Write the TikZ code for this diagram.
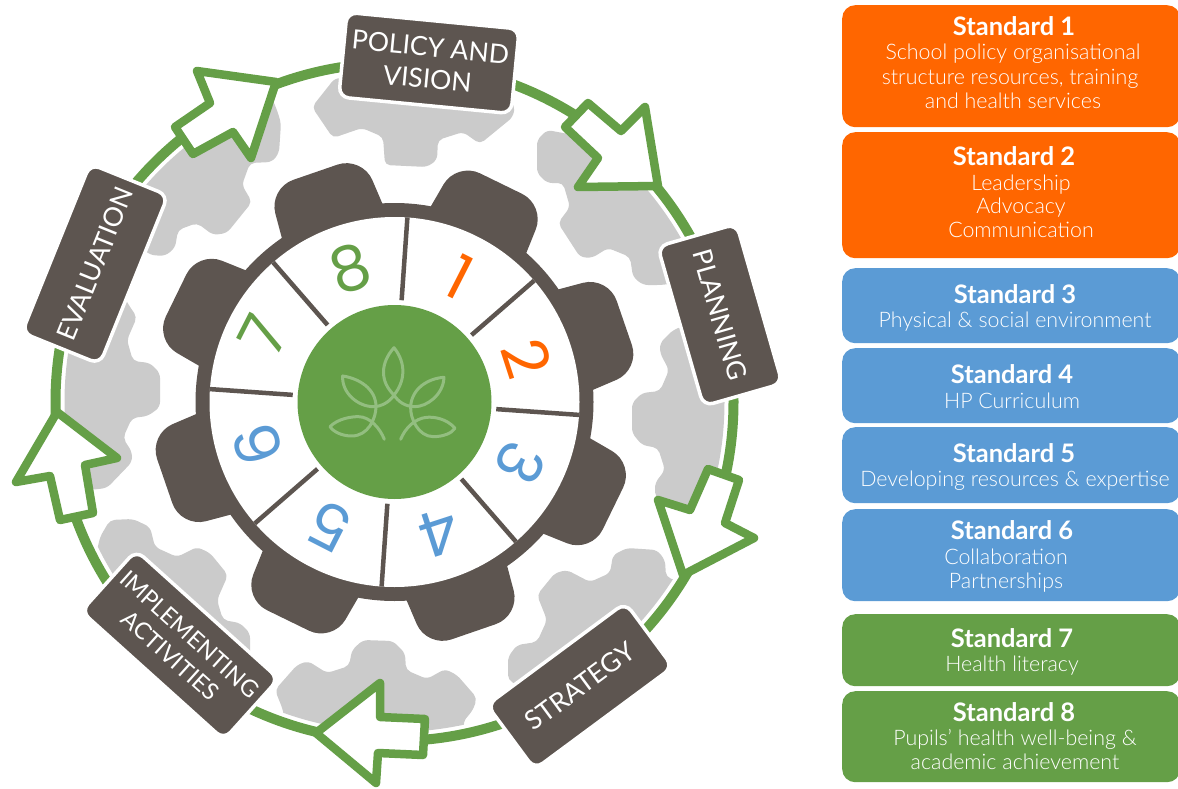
\documentclass[tikz,border=0pt]{standalone}
\usepackage{fontspec}
\setmainfont{Lato}
\newfontfamily\lightfont{Lato Light}
\newfontfamily\digitfont{Poppins}
\usepackage{tikz}
\usetikzlibrary{shapes,arrows,fit,calc,positioning}
\definecolor{gearbrown}{HTML}{5D5550}
\definecolor{ringgreen}{HTML}{659F47}
\definecolor{leafgreen}{HTML}{93BE80}
\definecolor{stdorange}{HTML}{FF6600}
\definecolor{stdblue}{HTML}{5B9BD5}
\definecolor{blobgrey}{HTML}{CBCBCB}

\begin{document}
\begin{tikzpicture}[x=1pt,y=-1pt,
    blob/.style={fill=blobgrey,rounded corners=5pt},
    flow/.style={draw=ringgreen,fill=white,line width=8.5pt,line join=round},
    stage/.style={draw=white,fill=gearbrown,line width=3.5pt,rounded corners=10pt,text=white,align=center,inner sep=0pt,font=\fontsize{26.5}{32}\selectfont},
    digit/.style={font=\digitfont\fontsize{62}{62}\selectfont,inner sep=0pt},
    stdbox/.style={rounded corners=13pt,anchor=north west,minimum width=338pt,inner sep=0pt},
    stdtitle/.style={anchor=base,text=white,inner sep=0pt,font=\fontsize{25.5}{26}\selectfont\bfseries},
    stdline/.style={anchor=base,text=white,inner sep=0pt,font=\lightfont\fontsize{21.4}{22}\selectfont}]
  \useasboundingbox (0,0) rectangle (1178,789);
  \coordinate (c) at (394.5,402);

  % grey gear pieces behind the ring
  \begin{scope}
    \clip (c) circle (330);
    \fill[blob] (335,78) -- (312,107) -- (333,138) -- (362,128) -- (383,137) -- (385,165) -- (427,167) -- (437,160) -- (438,140) -- (463,132) -- (480,144) -- (513,117) -- (515,105) -- (480,85) -- cycle;
    \fill[blob] (547,130) -- (537,140) -- (537,173) -- (547,183) -- (563,183) -- (570,207) -- (558,223) -- (580,257) -- (592,258) -- (608,248) -- (630,257) -- (633,277) -- (643,285) -- (662,285) -- (760,270) -- (680,170) -- (600,140) -- cycle;
    \fill[blob] (673,330) -- (660,343) -- (660,353) -- (669,370) -- (660,391) -- (642,393) -- (632,403) -- (632,433) -- (642,445) -- (658,448) -- (665,470) -- (655,483) -- (655,497) -- (677,507) -- (760,500) -- (760,400) -- (700,320) -- cycle;
    \fill[blob] (508,680) -- (508,657) -- (517,645) -- (537,642) -- (547,620) -- (537,595) -- (555,573) -- (567,570) -- (590,582) -- (610,573) -- (613,555) -- (627,548) -- (657,550) -- (665,560) -- (666,577) -- (675,580) -- (720,600) -- (600,730) -- cycle;
    \fill[blob] (275,690) -- (297,665) -- (308,661) -- (327,673) -- (349,666) -- (352,650) -- (363,640) -- (393,641) -- (405,653) -- (406,670) -- (427,679) -- (445,669) -- (457,675) -- (477,698) -- (473,710) -- (463,722) -- (470,760) -- (290,760) -- (283,710) -- cycle;
    \fill[blob] (95,560) -- (100,537) -- (110,520) -- (133,519) -- (150,527) -- (155,547) -- (177,557) -- (197,547) -- (210,553) -- (228,575) -- (217,600) -- (223,620) -- (240,623) -- (250,633) -- (250,660) -- (180,700) -- cycle;
    \fill[blob] (130,307) -- (137,317) -- (127,340) -- (133,361) -- (150,363) -- (160,373) -- (160,407) -- (148,416) -- (132,418) -- (123,438) -- (132,452) -- (132,462) -- (107,488) -- (90,490) -- (40,450) -- (40,330) -- (120,290) -- cycle;
    \fill[blob] (277,110) -- (281,123) -- (279,153) -- (272,162) -- (250,163) -- (242,185) -- (252,202) -- (227,233) -- (213,235) -- (197,223) -- (178,230) -- (175,248) -- (165,256) -- (150,255) -- (110,220) -- (160,120) -- (260,70) -- cycle;
  \end{scope}

  % outer ring and the arrows on it
  \draw[ringgreen,line width=10pt] (c) circle (339);
  \draw[flow] (276,82) -- (197,71) -- (210,103) -- (175,127) -- (193,154) -- (233,132) -- (251,158) -- cycle;
  \draw[flow] (658,186) -- (645,107) -- (621,131) -- (588,103) -- (565,127) -- (598,158) -- (578,187) -- cycle;
  \draw[flow] (683,575) -- (754,538) -- (725,523) -- (739,480) -- (708,469) -- (690,510) -- (658,500) -- cycle;
  \draw[flow] (316,733) -- (380,683) -- (380,717) -- (425,719) -- (423,755) -- (378,753) -- (376,783) -- cycle;
  \draw[flow] (57,412) -- (16,482) -- (50,476) -- (60,520) -- (93,513) -- (85,465) -- (117,458) -- cycle;

  \node[stage,rotate=-5.5,minimum width=173pt,minimum height=85pt] (policy) at (429,63) {POLICY AND\\VISION};
  \node[stage,rotate=-74,minimum width=166pt,minimum height=82pt] (planning) at (720,315) {PLANNING};
  \node[stage,rotate=36.5,minimum width=172pt,minimum height=80pt] (strategy) at (580,686) {STRATEGY};
  \node[stage,rotate=-42,minimum width=192pt,minimum height=82pt,font=\fontsize{23.5}{29}\selectfont] (implementing) at (180,645) {IMPLEMENTING\\ACTIVITIES};
  \node[stage,rotate=68,minimum width=182pt,minimum height=84pt] (evaluation) at (95,264) {EVALUATION};

  % main gear
  \begin{scope}[shift={(c)}]
    \foreach \a in {-64,-19,26,71,116,161,206,251}
      \fill[gearbrown,rounded corners=26pt] (\a-19:170) -- (\a-11.5:248) -- (\a+11.5:248) -- (\a+19:170) -- cycle;
    \fill[gearbrown] (0,0) circle (199);
    \fill[white] (0,0) circle (185);
    \foreach \a in {-86,-41,4,49,94,139,184,229}
      \draw[gearbrown,line width=4.5pt] (\a:102) -- (\a:185);
  \end{scope}
  \node[circle,fill=ringgreen,minimum size=194pt,inner sep=0pt] (hub) at (c) {};

  % leaves on the hub
  \begin{scope}[shift={(290,300)},scale=0.3333,leafgreen,line width=3pt,line cap=round,line join=round]
    \draw (158,228) .. controls (155,280) and (205,320) .. (250,320) .. controls (275,320) and (300,305) .. (312,285) .. controls (345,245) and (350,190) .. (312,143) .. controls (270,190) and (270,245) .. (312,285) .. controls (325,305) and (345,320) .. (375,320) .. controls (410,320) and (460,285) .. (462,232) .. controls (415,235) and (365,265) .. (362,320) .. controls (360,355) and (385,410) .. (430,410) .. controls (460,410) and (485,400) .. (495,385) .. controls (470,355) and (430,350) .. (410,352) .. controls (375,355) and (345,385) .. (332,418);
    \draw (158,228) .. controls (205,235) and (258,265) .. (258,320) .. controls (258,355) and (235,408) .. (185,408) .. controls (155,408) and (130,395) .. (120,380) .. controls (145,355) and (185,350) .. (205,350) .. controls (240,350) and (270,385) .. (283,418);
  \end{scope}

  \foreach \n/\x/\y/\col in {1/460/277/stdorange,2/527/358/stdorange,3/520/463/stdblue,4/440/533/stdblue,5/330/527/stdblue,6/258/445/stdblue,7/263/335/ringgreen,8/350/268/ringgreen}
    \node[digit,text=\col,rotate={-27-45*(\n-1)}] (num\n) at (\x,\y) {\n};

  % standards list
  \foreach \n/\ytop/\ybot/\col in {1/5/127/stdorange,2/132/258/stdorange,3/268/343/stdblue,4/348/423/stdblue,5/427/503/stdblue,6/509/601/stdblue,7/614/686/ringgreen,8/691/782/ringgreen}
    \node[stdbox,fill=\col,minimum height={\ybot-\ytop}] (box\n) at (842,\ytop) {};
  \foreach \n/\x/\y in {1/1014/36,2/1014/165,3/1015/303,4/1012/383,5/1014/462,6/1012/539,7/1012/647,8/1014/721}
    \node[stdtitle] (title\n) at (\x,\y) {Standard \n};
  \foreach \nm/\x/\y/\txt in {a/1013/60/School policy organisational,b/1010/85/{structure resources, training},c/1013/109/and health services,
      d/1021/190/Leadership,e/1021/213/Advocacy,f/1021/237/Communication,
      g/1015/327/Physical \& social environment,h/1012/408/HP Curriculum,
      i/1015/486/Developing resources \& expertise,j/1006/564/Collaboration,k/1006/588/Partnerships,
      l/1012/671/Health literacy,m/1015/745/Pupils’ health well-being \&,n/1015/769/academic achievement}
    \node[stdline] (line\nm) at (\x,\y) {\txt};
\end{tikzpicture}
\end{document}
